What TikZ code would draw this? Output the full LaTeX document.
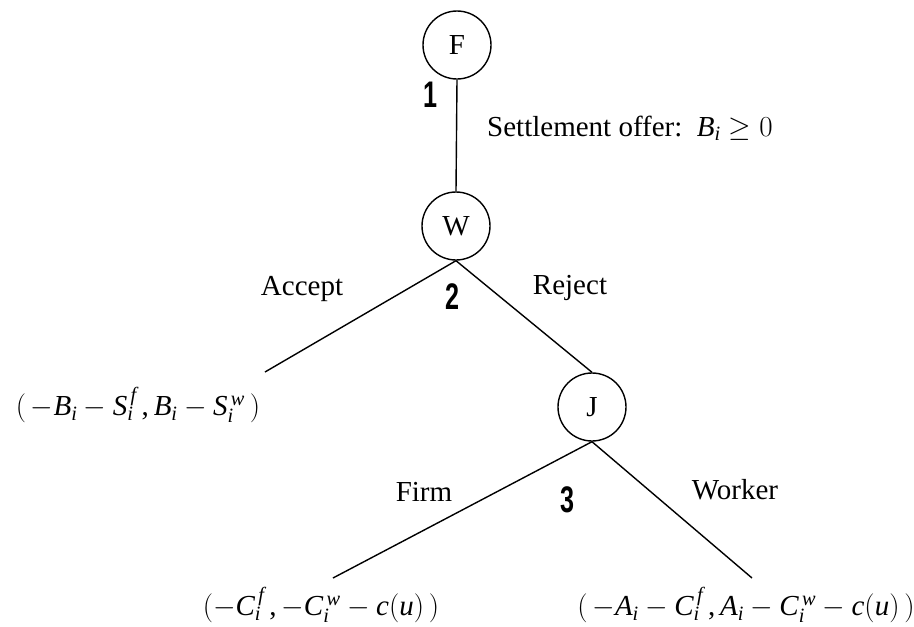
\RequirePackage{fix-cm}
\documentclass[tikz,border=0pt]{standalone}
\usepackage{graphicx}
\usepackage{fontspec}
\setmainfont{Liberation Serif}
\newfontfamily\stagefont{Liberation Sans}[NFSSFamily=libsansx]
\newfontfamily\mathserif{Liberation Serif}[NFSSFamily=libserifx]
\DeclareSymbolFont{letters}{TU}{libserifx}{m}{it}
\DeclareSymbolFont{operators}{TU}{libserifx}{m}{n}
\mathcode`,="602C
\newcommand\stagenum[1]{\scalebox{0.68}[1]{\stagefont\bfseries\fontsize{37}{37}\selectfont #1}}
\begin{document}
\begin{tikzpicture}[x=1pt,y=-1pt,
  every node/.style={font=\fontsize{29}{34}\selectfont, inner sep=0pt},
  player/.style={circle, draw, line width=1.4pt, minimum size=68pt},
  branch/.style={line width=1.4pt}]
\useasboundingbox (0,0) rectangle (914,627);
\node[player] (F) at (457,45) {F};
\node[player] (W) at (456,226) {W};
\node[player] (J) at (592,407) {J};
\coordinate (acc) at (265,372);
\coordinate (firm) at (333,578);
\coordinate (work) at (752,578);
\draw[branch] (F.south) -- (W.north);
\draw[branch] (W.south) -- (acc);
\draw[branch] (W.south) -- (J.north);
\draw[branch] (J.south) -- (firm);
\draw[branch] (J.south) -- (work);
\node (one) at (430,95) {\stagenum{1}};
\node[anchor=west] (offer) at (487,128) {Settlement offer:\ \ $B_i \geq 0$};
\node (accept) at (302,289) {Accept};
\node (two) at (452,297) {\stagenum{2}};
\node (reject) at (570,288) {Reject};
\node (payA) at (138,405) {$(\,-B_i-S_i^{\,f}\,,B_i-S_i^{\,w}\,)$};
\node (firmlbl) at (424,492) {Firm};
\node (three) at (567,500) {\stagenum{3}};
\node (worklbl) at (735,490) {Worker};
\node (payF) at (321,605) {$(-C_i^{\,f}\,,-C_i^{\,w}-c(u)\,)$};
\node (payW) at (746,605) {$(\,-A_i-C_i^{\,f}\,,A_i-C_i^{\,w}-c(u)\,)$};
\end{tikzpicture}
\end{document}
